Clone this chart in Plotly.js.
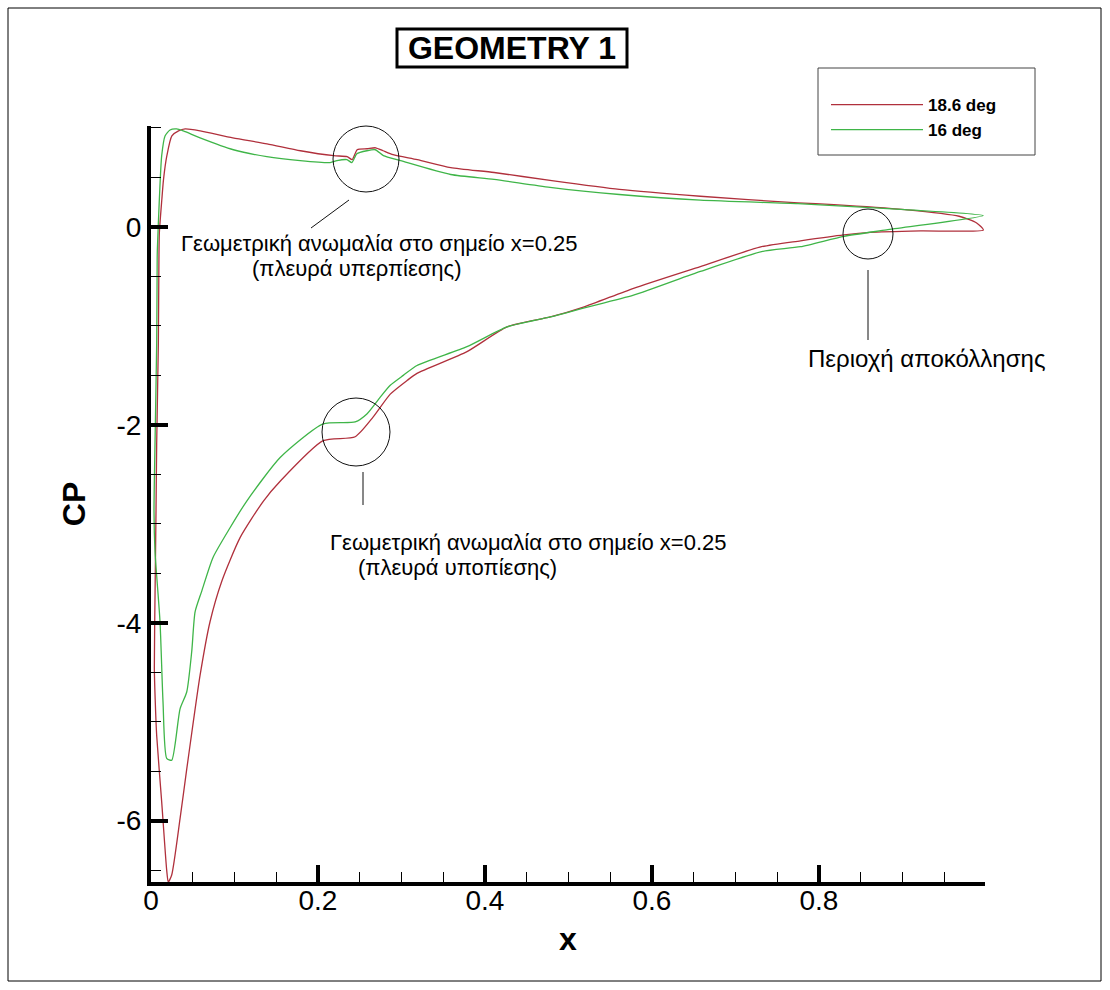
<!DOCTYPE html>
<html>
<head>
<meta charset="utf-8">
<script src="https://cdn.plot.ly/plotly-3.0.1.min.js"></script>
<style>
  html, body { margin: 0; padding: 0; background: #ffffff; }
  #chart { width: 1110px; height: 990px; }
</style>
</head>
<body>
<div id="chart"></div>
<script>
// Pressure coefficient around the section, 18.6 deg: upper branch (trailing edge -> leading edge)
const x186Upper = [0.997, 0.989, 0.968, 0.903, 0.818, 0.775, 0.658, 0.561, 0.478, 0.411, 0.359, 0.319, 0.290, 0.278, 0.269, 0.259, 0.247, 0.241, 0.235, 0.219, 0.179, 0.139, 0.098, 0.059, 0.041, 0.033, 0.025, 0.019, 0.015, 0.013, 0.010];
const cp186Upper = [-0.03, 0.04, 0.108, 0.175, 0.226, 0.243, 0.31, 0.379, 0.47, 0.55, 0.60, 0.68, 0.73, 0.77, 0.80, 0.79, 0.78, 0.68, 0.71, 0.72, 0.77, 0.84, 0.90, 0.97, 0.99, 0.97, 0.92, 0.72, 0.48, 0.28, -0.06];
// 18.6 deg: lower branch (leading edge -> trailing edge)
const x186Lower = [0.0095, 0.0088, 0.0068, 0.006, 0.005, 0.004, 0.005, 0.0068, 0.0128, 0.0188, 0.0207, 0.0248, 0.0348, 0.0428, 0.0507, 0.0588, 0.0707, 0.0848, 0.1067, 0.1347, 0.1547, 0.2062, 0.2446, 0.2662, 0.2866, 0.307, 0.3186, 0.3785, 0.4265, 0.4784, 0.518, 0.578, 0.658, 0.7314, 0.778, 0.830, 0.862, 0.922, 0.997];
const cp186Lower = [-0.33, -1.18, -2.19, -2.87, -3.6, -4.46, -4.77, -5.14, -5.81, -6.5, -6.62, -6.55, -5.98, -5.48, -5.0, -4.53, -3.99, -3.58, -3.14, -2.77, -2.57, -2.16, -2.12, -1.92, -1.69, -1.55, -1.48, -1.26, -1.01, -0.91, -0.81, -0.62, -0.40, -0.20, -0.14, -0.08, -0.055, -0.04, -0.03];

// 16 deg: upper branch (trailing edge -> leading edge)
const x16Upper = [0.997, 0.903, 0.818, 0.775, 0.658, 0.561, 0.478, 0.411, 0.359, 0.299, 0.2784, 0.2686, 0.2586, 0.2466, 0.2406, 0.2347, 0.2227, 0.2146, 0.1787, 0.1387, 0.0987, 0.0588, 0.0387, 0.0308, 0.0228, 0.0168, 0.0128, 0.0100, 0.0076];
const cp16Upper = [0.115, 0.175, 0.215, 0.235, 0.27, 0.328, 0.40, 0.48, 0.53, 0.67, 0.72, 0.78, 0.77, 0.74, 0.65, 0.68, 0.67, 0.65, 0.67, 0.71, 0.78, 0.90, 0.97, 0.99, 0.98, 0.92, 0.72, 0.28, -0.23];
// 16 deg: lower branch (leading edge -> trailing edge)
const x16Lower = [0.0074, 0.0068, 0.0048, 0.0036, 0.0048, 0.0108, 0.0144, 0.0188, 0.0248, 0.0348, 0.0428, 0.0488, 0.0528, 0.0608, 0.0743, 0.0947, 0.1147, 0.1547, 0.2062, 0.2446, 0.2586, 0.2746, 0.2866, 0.3022, 0.3186, 0.3785, 0.4265, 0.4784, 0.518, 0.578, 0.658, 0.7314, 0.778, 0.830, 0.881, 0.997];
const cp16Lower = [-0.33, -1.18, -2.19, -2.87, -3.28, -3.99, -4.80, -5.37, -5.39, -4.87, -4.70, -4.29, -3.89, -3.68, -3.34, -3.04, -2.77, -2.33, -1.99, -1.97, -1.89, -1.72, -1.60, -1.50, -1.40, -1.21, -1.01, -0.91, -0.82, -0.69, -0.45, -0.25, -0.20, -0.095, -0.03, 0.115];

const seriesNames = ['18.6 deg', '16 deg'];
const seriesColors = ['#b0303c', '#3fb548'];

const xTickVals = [0, 0.2, 0.4, 0.6, 0.8];
const xTickText = ['0', '0.2', '0.4', '0.6', '0.8'];
const yTickVals = [-6, -4, -2, 0];
const yTickText = ['-6', '-4', '-2', '0'];

const noteUpper = ['Γεωμετρική ανωμαλία στο σημείο x=0.25', '(πλευρά υπερπίεσης)'];
const noteLower = ['Γεωμετρική ανωμαλία στο σημείο x=0.25', '(πλευρά υποπίεσης)'];
const noteSeparation = 'Περιοχή αποκόλλησης';

// plot-area geometry in pixels
const L = 151, T = 126, W = 834, H = 756;
const FIG_W = 1110, FIG_H = 990;
const px = v => (v - L) / W;
const py = v => (T + H - v) / H;

const FONT = 'Liberation Sans, Arial, Helvetica, sans-serif';

const traces = [
  {
    x: x186Upper.concat(x186Lower),
    y: cp186Upper.concat(cp186Lower),
    name: seriesNames[0],
    mode: 'lines',
    type: 'scatter',
    line: { color: seriesColors[0], width: 1.3, shape: 'spline', smoothing: 0.6 }
  },
  {
    x: x16Upper.concat(x16Lower),
    y: cp16Upper.concat(cp16Lower),
    name: seriesNames[1],
    mode: 'lines',
    type: 'scatter',
    line: { color: seriesColors[1], width: 1.3, shape: 'spline', smoothing: 0.6 }
  }
];

function rectPx(x0, y0, x1, y1, width, color) {
  return { type: 'rect', xref: 'paper', yref: 'paper',
    x0: px(x0), x1: px(x1), y0: py(y1), y1: py(y0),
    line: { color: color || '#000', width: width }, fillcolor: 'rgba(0,0,0,0)', layer: 'above' };
}
function circlePx(cx, cy, r) {
  return { type: 'circle', xref: 'paper', yref: 'paper',
    x0: px(cx - r), x1: px(cx + r), y0: py(cy + r), y1: py(cy - r),
    line: { color: '#111', width: 1 }, layer: 'above' };
}
function linePx(x0, y0, x1, y1) {
  return { type: 'line', xref: 'paper', yref: 'paper',
    x0: px(x0), x1: px(x1), y0: py(y0), y1: py(y1),
    line: { color: '#111', width: 1 }, layer: 'above' };
}
function notePx(text, xLeft, yMid, size) {
  return { text: text, xref: 'paper', yref: 'paper', x: px(xLeft), y: py(yMid),
    xanchor: 'left', yanchor: 'middle', showarrow: false,
    font: { family: FONT, size: size, color: '#000' } };
}

const shapes = [
  rectPx(8, 8, 1101, 981, 1, '#000'),      // outer frame
  rectPx(397, 29, 627, 67, 3, '#000'),     // title box
  rectPx(818, 68, 1035, 155, 1, '#444'),   // legend box
  circlePx(366, 159, 33),
  linePx(349, 200, 311, 228),
  circlePx(356, 432, 34),
  linePx(363, 472, 363, 505),
  circlePx(868, 234, 25),
  linePx(868, 270, 868, 340)
];

const annotations = [
  notePx(noteUpper[0], 179, 243, 22),
  notePx(noteUpper[1], 250, 268, 22),
  notePx(noteLower[0], 328, 542, 22),
  notePx(noteLower[1], 356, 567, 22),
  notePx(noteSeparation, 806, 358, 24)
];

const axisCommon = {
  showgrid: false,
  zeroline: false,
  showline: true,
  linecolor: '#000',
  linewidth: 4,
  ticks: 'inside',
  ticklen: 17,
  tickwidth: 4,
  tickcolor: '#000',
  tickfont: { family: FONT, size: 28, color: '#000' },
  tickmode: 'array',
  fixedrange: true
};

const layout = {
  width: FIG_W,
  height: FIG_H,
  margin: { l: L, r: FIG_W - L - W, t: T, b: FIG_H - T - H, pad: 0 },
  paper_bgcolor: '#ffffff',
  plot_bgcolor: '#ffffff',
  title: {
    text: '<b>GEOMETRY 1</b>',
    xref: 'container', yref: 'container',
    x: 512 / FIG_W, y: 1 - 48 / FIG_H,
    xanchor: 'center', yanchor: 'middle',
    font: { family: FONT, size: 32, color: '#000' }
  },
  xaxis: Object.assign({}, axisCommon, {
    range: [0, 0.999],
    tickvals: xTickVals,
    ticktext: xTickText,
    ticklabelstandoff: -10,
    minor: { tickmode: 'linear', tick0: 0, dtick: 0.05, ticks: 'inside', ticklen: 10, tickwidth: 1, tickcolor: '#000' },
    title: { text: '<b>x</b>', font: { family: FONT, size: 32, color: '#000' }, standoff: 14 }
  }),
  yaxis: Object.assign({}, axisCommon, {
    range: [-6.62, 1.02],
    tickvals: yTickVals,
    ticktext: yTickText,
    minor: { tickmode: 'linear', tick0: 0, dtick: 0.5, ticks: 'inside', ticklen: 10, tickwidth: 1, tickcolor: '#000' },
    title: { text: '<b>CP</b>', font: { family: FONT, size: 32, color: '#000' }, standoff: 22 }
  }),
  showlegend: true,
  legend: {
    x: px(826), y: py(87),
    xanchor: 'left', yanchor: 'top',
    bgcolor: 'rgba(0,0,0,0)',
    borderwidth: 0,
    itemwidth: 92,
    tracegroupgap: 0,
    font: { family: FONT, size: 17, color: '#000', weight: 'bold' }
  },
  shapes: shapes,
  annotations: annotations,
  hovermode: false
};

Plotly.newPlot('chart', traces, layout, { staticPlot: true, displayModeBar: false });
</script>
</body>
</html>
